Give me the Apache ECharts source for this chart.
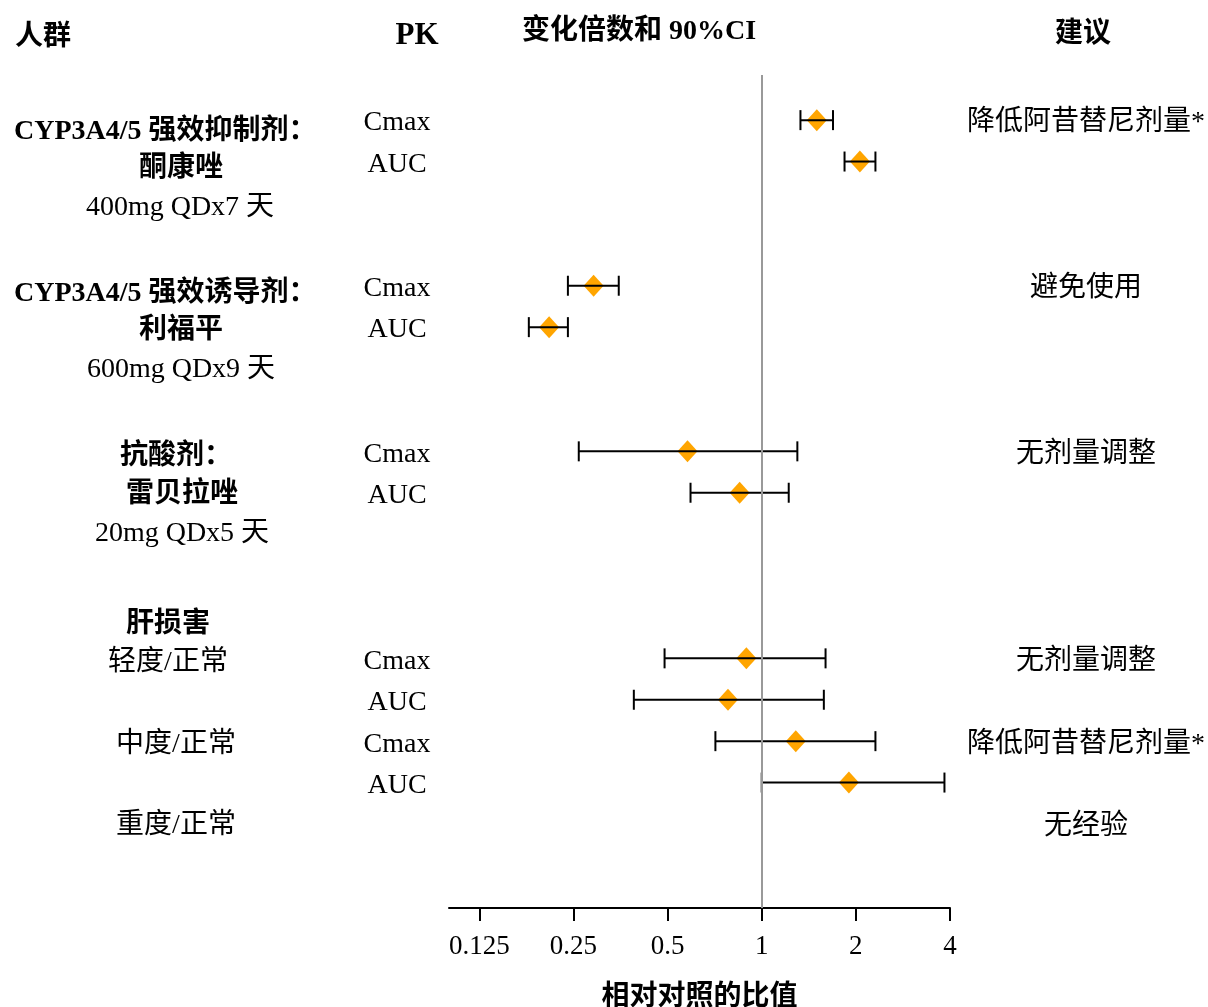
<!DOCTYPE html>
<html><head><meta charset="utf-8">
<script src="https://cdn.jsdelivr.net/npm/echarts@6/dist/echarts.min.js"></script>
<style>html,body{margin:0;padding:0;background:#fff}#c{width:1208px;height:1007px}</style>
</head><body><div id="c"></div>
<script>
// ---- data ----
const rows = [0, 1, 4, 5, 8, 9, 13, 14, 15, 16];
const pkLabels = ['Cmax', 'AUC', 'Cmax', 'AUC', 'Cmax', 'AUC', 'Cmax', 'AUC', 'Cmax', 'AUC'];
const ratio = [1.50, 2.06, 0.290, 0.209, 0.579, 0.850, 0.893, 0.780, 1.285, 1.90];
const ciLow = [1.33, 1.84, 0.240, 0.180, 0.260, 0.592, 0.489, 0.390, 0.711, 1.00];
const ciHigh = [1.69, 2.31, 0.349, 0.240, 1.30, 1.22, 1.60, 1.58, 2.31, 3.84];
const xTicks = [0.125, 0.25, 0.5, 1, 2, 4];
const tickLabels = ['0.125', '0.25', '0.5', '1', '2', '4'];
const headers = ['人群', 'PK', '变化倍数和 90%CI', '建议'];
const groupTexts = ['CYP3A4/5 强效抑制剂：', '酮康唑', '400mg QDx7 天',
  'CYP3A4/5 强效诱导剂：', '利福平', '600mg QDx9 天',
  '抗酸剂：', '雷贝拉唑', '20mg QDx5 天',
  '肝损害', '轻度/正常', '中度/正常', '重度/正常'];
const recTexts = ['降低阿昔替尼剂量*', '避免使用', '无剂量调整', '无剂量调整', '降低阿昔替尼剂量*', '无经验'];
const recRows = [0, 4, 8, 13, 15, 17];
const xTitle = '相对对照的比值';

// ---- layout (styles/positions) ----
const SERIF = '"Liberation Serif", "Noto Sans CJK SC", serif';
const DY = 3;
const groupLayout = [
  {x: 14, y: 129, bold: true, align: 'left'}, {x: 181, y: 166, bold: true}, {x: 180, y: 205},
  {x: 14, y: 291, bold: true, align: 'left'}, {x: 181, y: 328, bold: true}, {x: 181, y: 367},
  {x: 176, y: 454, bold: true}, {x: 182, y: 492, bold: true}, {x: 182, y: 531},
  {x: 168, y: 622, bold: true}, {x: 168, y: 660}, {x: 176, y: 742}, {x: 176, y: 823}
];
const headerLayout = [
  {x: 15, y: 35, align: 'left', size: 28}, {x: 417, y: 33, size: 31},
  {x: 639, y: 29, size: 28}, {x: 1083, y: 32, size: 28}
];

const chart = echarts.init(document.getElementById('c'));
const option = {
  animation: false,
  textStyle: {fontFamily: SERIF},
  grid: {left: 449, width: 501, top: 75, height: 833, outerBoundsMode: 'none', containLabel: false},
  xAxis: {
    type: 'log', logBase: 2, min: 0.1, max: 4,
    axisLine: {show: true, onZero: false, lineStyle: {color: '#000', width: 2}},
    axisTick: {show: true, customValues: xTicks, length: 13, lineStyle: {color: '#000', width: 2}},
    axisLabel: {customValues: xTicks, margin: 25, fontSize: 27, color: '#000', fontFamily: SERIF,
      formatter: v => { const i = xTicks.findIndex(t => Math.abs(t - v) < 1e-9); return i >= 0 ? tickLabels[i] : ''; }},
    splitLine: {show: false},
    name: xTitle, nameLocation: 'middle', nameGap: 72,
    nameTextStyle: {fontSize: 28, fontWeight: 'bold', color: '#000', fontFamily: '"Noto Sans CJK SC", sans-serif'}
  },
  yAxis: {
    type: 'value', inverse: true, min: -1.09, max: 19.03, show: false
  },
  series: [
    {
      type: 'scatter', z: 2,
      symbol: 'diamond', symbolSize: [20, 22],
      itemStyle: {color: '#FFA500', opacity: 1},
      data: rows.map((r, i) => [ratio[i], r]),
      markLine: {
        silent: true, symbol: 'none', label: {show: false},
        lineStyle: {color: '#999', width: 2, type: 'solid'},
        data: [{xAxis: 1}]
      }
    },
    {
      type: 'custom', z: 3,
      data: rows.map((r, i) => [ciLow[i], ciHigh[i], r]),
      encode: {x: [0, 1], y: 2},
      renderItem: (params, api) => {
        const y = api.value(2);
        const a = api.coord([api.value(0), y]);
        const b = api.coord([api.value(1), y]);
        const h = 10;
        const st = {stroke: '#000', lineWidth: 2};
        return {type: 'group', children: [
          {type: 'line', shape: {x1: a[0], y1: a[1], x2: b[0], y2: b[1]}, style: st},
          {type: 'line', shape: {x1: a[0], y1: a[1] - h, x2: a[0], y2: a[1] + h}, style: st},
          {type: 'line', shape: {x1: b[0], y1: b[1] - h, x2: b[0], y2: b[1] + h}, style: st}
        ]};
      }
    }
  ]
};
chart.setOption(option);

// ---- texts ----
const rowY = r => chart.convertToPixel({yAxisIndex: 0}, r);
const txt = (text, x, y, size, bold, align) => ({
  type: 'text', silent: true,
  style: {text, x, y: y + DY, fill: '#000', textAlign: align || 'center', textVerticalAlign: 'middle',
    font: (bold ? 'bold ' : '') + size + 'px ' + SERIF}
});
const g = [];
headers.forEach((t, i) => { const L = headerLayout[i]; g.push(txt(t, L.x, L.y, L.size, true, L.align)); });
groupTexts.forEach((t, i) => { const L = groupLayout[i]; g.push(txt(t, L.x, L.y, 28, !!L.bold, L.align)); });
pkLabels.forEach((t, i) => g.push(txt(t, 397, rowY(rows[i]), 28, false)));
recTexts.forEach((t, i) => g.push(txt(t, 1086, rowY(recRows[i]), 28, false)));
chart.setOption({graphic: {elements: g}});
</script></body></html>
